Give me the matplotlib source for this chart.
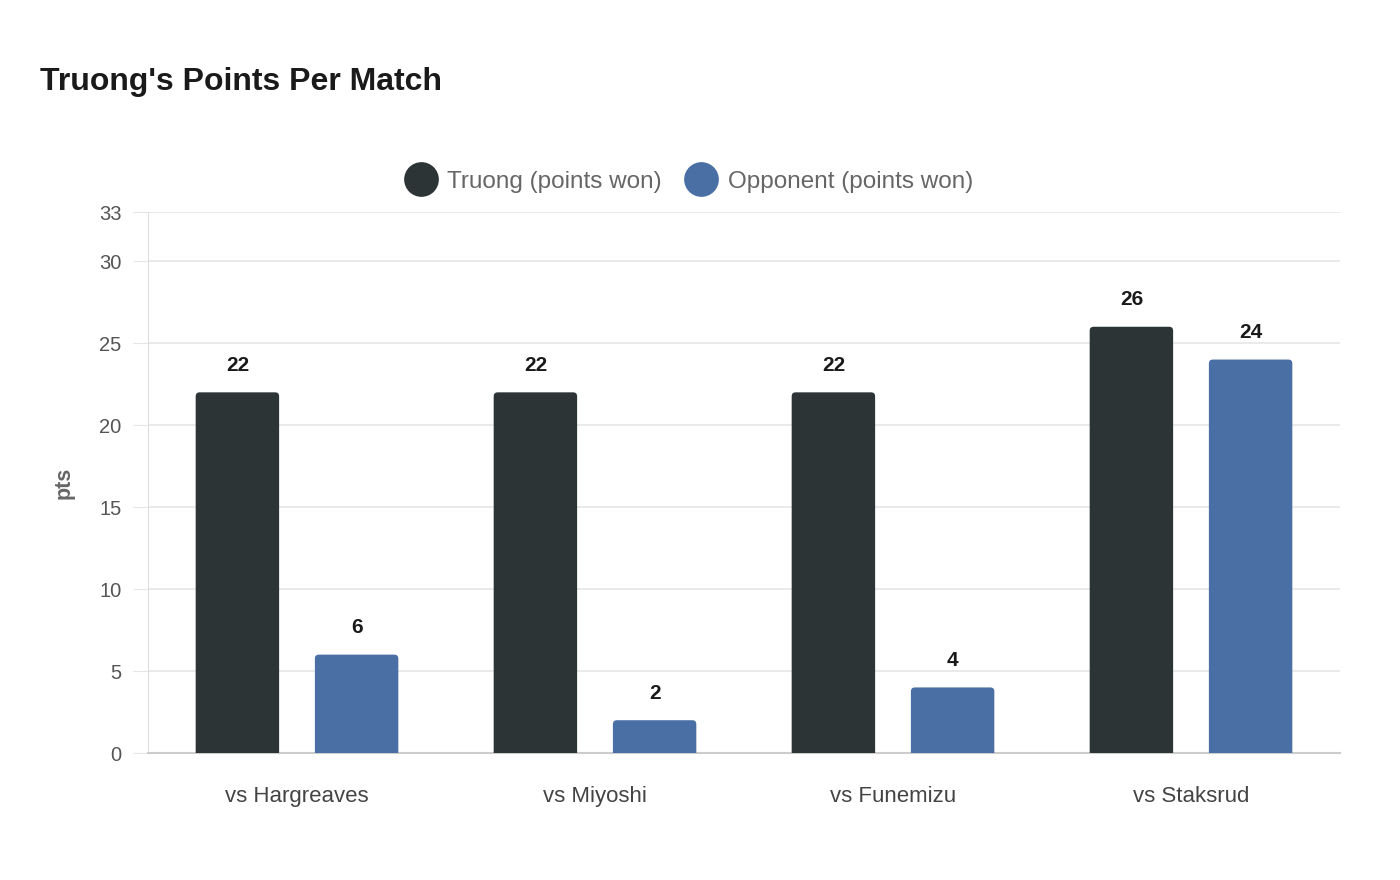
import numpy as np
import matplotlib
matplotlib.use("Agg")
import matplotlib.pyplot as plt
from matplotlib.patches import FancyBboxPatch
from matplotlib.lines import Line2D

plt.rcParams['font.family'] = ['Liberation Sans', 'DejaVu Sans']

# data
matches = ['vs Hargreaves', 'vs Miyoshi', 'vs Funemizu', 'vs Staksrud']
truong = [22, 22, 22, 26]
opponent = [6, 2, 4, 24]
series_names = ['Truong (points won)', 'Opponent (points won)']
yticks = [0, 5, 10, 15, 20, 25, 30, 33]

c_dark = '#2d3436'
c_blue = '#4a6fa5'

fig = plt.figure(figsize=(14, 8.8), dpi=100)
ax = fig.add_axes([148/1400, 1-753/880, 1192/1400, 541/880])

x = np.arange(len(matches))
bw = 0.28
off = 0.2
ymax = 33
# px per data unit, used to keep corners round
px_x = 1192/len(matches)
px_y = 541/ymax
r = 4/px_x
asp = px_x/px_y


def rbar(xc, h, color):
    p = FancyBboxPatch((xc - bw/2, -1), bw, h + 1,
                       boxstyle=f"round,pad=0,rounding_size={r}",
                       mutation_aspect=asp, fc=color, ec='none', zorder=3)
    ax.add_patch(p)


for xi, a, b in zip(x, truong, opponent):
    rbar(xi - off, a, c_dark)
    rbar(xi + off, b, c_blue)
    ax.text(xi - off, a + 1.65, str(a), ha='center', va='center',
            fontsize=15, fontweight='bold', color='#1a1a1a')
    ax.text(xi + off, b + 1.65, str(b), ha='center', va='center',
            fontsize=15, fontweight='bold', color='#1a1a1a')

ax.set_xlim(-0.5, len(matches) - 0.5)
ax.set_ylim(0, ymax)
ax.set_yticks(yticks)
ax.set_xticks(x)
ax.set_xticklabels(matches, fontsize=16, color='#444444')
ax.tick_params(axis='x', length=0, pad=24)
ax.tick_params(axis='y', length=11, color='#e6e6e6', labelsize=14.5,
               labelcolor='#555555', pad=8)
ax.grid(axis='y', color='#e6e6e6', lw=1.2, zorder=0)
ax.set_axisbelow(True)
for s in ['top', 'right']:
    ax.spines[s].set_visible(False)
ax.spines['left'].set_color('#dddddd')
ax.spines['left'].set_linewidth(0.8)
ax.spines['bottom'].set_color('#cccccc')
ax.spines['bottom'].set_linewidth(1.5)
ax.set_ylabel('pts', fontsize=15.5, fontweight='bold', color='#666666', labelpad=18)

fig.text(40/1400, 1-82/880, "Truong's Points Per Match", fontsize=23,
         fontweight='bold', color='#1a1a1a', va='center', ha='left')

handles = [Line2D([], [], marker='o', ls='none', ms=25, mfc=c_dark, mec='none'),
           Line2D([], [], marker='o', ls='none', ms=25, mfc=c_blue, mec='none')]
leg = fig.legend(handles, series_names, loc='center', bbox_to_anchor=(687/1400, 1-182/880),
                 ncol=2, frameon=False, fontsize=17.5, handletextpad=0.3,
                 columnspacing=0.8, handlelength=1.6)
for t in leg.get_texts():
    t.set_color('#666666')

fig.savefig('out.png', dpi=100)
